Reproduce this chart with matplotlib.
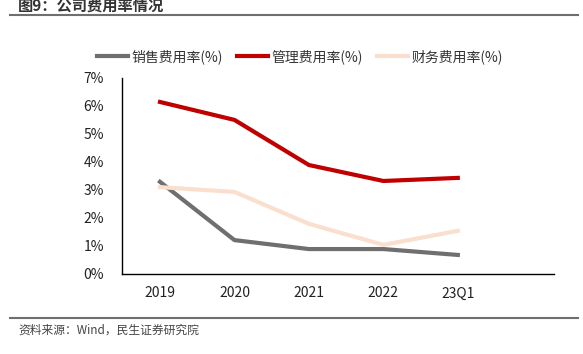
import matplotlib.pyplot as plt
import numpy as np

plt.rcParams['font.family'] = ['Noto Sans CJK SC', 'DejaVu Sans']

# 数据
periods = ["2019", "2020", "2021", "2022", "23Q1"]
sales_rate = [3.29, 1.21, 0.89, 0.89, 0.68]
admin_rate = [6.14, 5.50, 3.89, 3.32, 3.43]
finance_rate = [3.10, 2.93, 1.79, 1.04, 1.54]
yticks = [0, 1, 2, 3, 4, 5, 6, 7]

fig = plt.figure(figsize=(5.83, 3.54), dpi=100)
ax = fig.add_axes([0.2093, 0.226, 0.7407, 0.554])

x = np.arange(len(periods))
ax.plot(x, sales_rate, color="#6f6f6f", lw=3, label="销售费用率(%)")
ax.plot(x, admin_rate, color="#c00000", lw=3, label="管理费用率(%)")
ax.plot(x, finance_rate, color="#fadfcf", lw=3, label="财务费用率(%)")

ax.set_xlim(-0.51, 5.29)
ax.set_ylim(0, 7)
ax.set_xticks(x)
ax.set_xticklabels(periods, fontsize=10, color="#222222")
ax.set_yticks(yticks)
ax.set_yticklabels([f"{v}%" for v in yticks], fontsize=10, color="#222222")
ax.tick_params(length=0, pad=9)
ax.tick_params(axis="y", pad=13)
for s in ["top", "right"]:
    ax.spines[s].set_visible(False)
for s in ["left", "bottom"]:
    ax.spines[s].set_color("#000000")
    ax.spines[s].set_linewidth(1)

fig.legend(loc="center", bbox_to_anchor=(0.515, 0.84), ncol=3, frameon=False,
           fontsize=10, handlelength=2.2, handletextpad=0.3, columnspacing=1.0,
           labelcolor="#333333")

# 标题与来源
fig.text(0.031, 0.985, "图9：公司费用率情况", fontsize=11, fontweight="bold",
         color="#333333", va="center")
fig.add_artist(plt.Line2D([0.017, 0.991], [0.958, 0.958], color="#6f6f6f", lw=1.5))
fig.add_artist(plt.Line2D([0.017, 0.991], [0.102, 0.102], color="#6f6f6f", lw=1.5))
fig.text(0.031, 0.068, "资料来源：Wind，民生证券研究院", fontsize=8.5,
         color="#444444", va="center")

fig.savefig("out.png", dpi=100)
